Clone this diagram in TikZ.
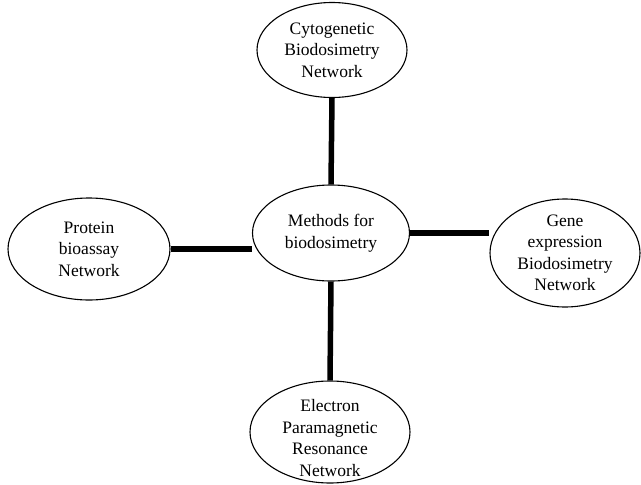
\documentclass[tikz,border=0pt]{standalone}
\usepackage{fontspec}
\setmainfont{Liberation Serif}
\usetikzlibrary{shapes.geometric}
\begin{document}
\begin{tikzpicture}[x=1pt,y=-1pt,
  txt/.style={inner sep=0pt,align=center,font=\fontsize{17.5}{21.5}\selectfont},
  oval/.style={ellipse,draw,line width=1.1pt,txt},
  link/.style={line width=5.5pt}]
\useasboundingbox (0,0) rectangle (641,485);
\node[oval,minimum width=150pt,minimum height=95pt] (top) at (332,50) {Cytogenetic\\Biodosimetry\\Network};
\node[oval,minimum width=157pt,minimum height=96pt] (mid) at (331,233) {Methods for\\biodosimetry};
\node[oval,minimum width=162pt,minimum height=102pt] (left) at (89,249) {Protein\\bioassay\\Network};
\node[oval,minimum width=150pt,minimum height=108pt] (right) at (565,253) {Gene\\expression\\Biodosimetry\\Network};
\node[oval,minimum width=160pt,minimum height=102pt] (bot) at (330,432) {};
\node[txt] (bottxt) at (330,438) {Electron\\Paramagnetic\\Resonance\\Network};
\draw[link] (top.south) -- (mid.north);
\draw[link] (mid.south) -- (bot.north);
\draw[link] (left.east) -- (left.east -| mid.west);
\draw[link] (mid.east) -- (mid.east -| right.west);
\end{tikzpicture}
\end{document}
